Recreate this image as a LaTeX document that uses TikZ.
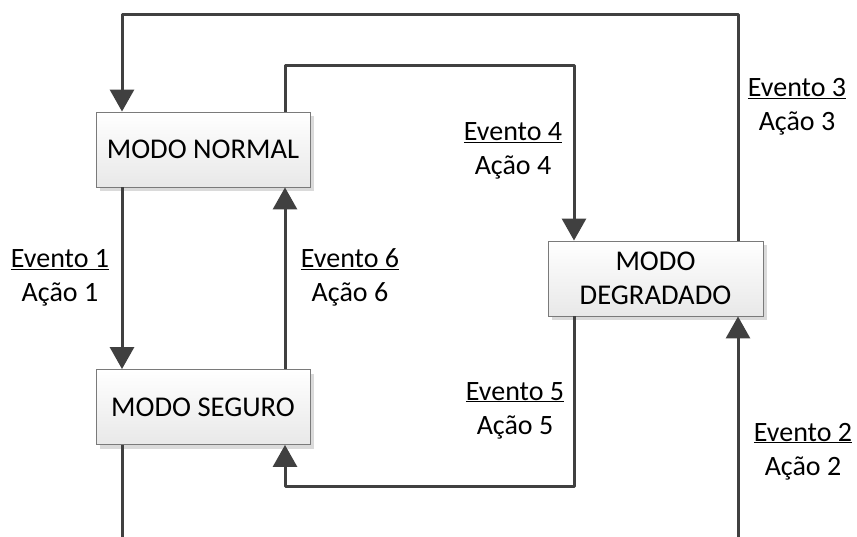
\documentclass[tikz,border=0pt]{standalone}
\usepackage{fontspec}
\setmainfont{Carlito}
\usetikzlibrary{arrows.meta,shadows}
\definecolor{lineclr}{HTML}{404040}
\definecolor{boxdraw}{HTML}{7A7A7A}
\definecolor{shadowclr}{HTML}{DADADA}
\begin{document}
\begin{tikzpicture}[x=1pt,y=-1pt,
  modebox/.style={draw=boxdraw,line width=0.9pt,top color=white,bottom color=black!9,
    minimum width=214pt,minimum height=75pt,inner sep=0pt,align=center,
    font=\fontsize{28.6}{34}\selectfont,
    drop shadow={shadow xshift=4pt,shadow yshift=-4pt,fill=shadowclr,opacity=1}},
  conn/.style={draw=lineclr,line width=3pt,line join=round},
  arr/.style={conn,-{Triangle[width=24pt,length=22pt]}},
  lbl/.style={font=\fontsize{28}{33}\selectfont,inner sep=0pt,anchor=base}]
\path[use as bounding box] (0,0) rectangle (857,537);

% boxes
\node[modebox] (normal) at (203,149.5) {MODO NORMAL};
\node[modebox] (seguro) at (203,407) {MODO SEGURO};
\node[modebox,minimum width=215pt] (degr) at (655.5,278.5) {MODO\\DEGRADADO};

% helper coordinates
\coordinate (t1) at (738,15);
\coordinate (t2) at (122,15);
\coordinate (u1) at (285,66);
\coordinate (u2) at (574,66);
\coordinate (d1) at (574,486);
\coordinate (d2) at (285,486);
\coordinate (b1) at (122,537);
\coordinate (b2) at (738,537);

% connectors
\draw[arr] (degr.north -| t1) -- (t1) -- (t2) -- (normal.north -| t2);
\draw[arr] (normal.north -| u1) -- (u1) -- (u2) -- (degr.north -| u2);
\draw[arr] (normal.south -| t2) -- (seguro.north -| t2);
\draw[arr] (seguro.north -| u1) -- (normal.south -| u1);
\draw[arr] (degr.south -| d1) -- (d1) -- (d2) -- (seguro.south -| d2);
\draw[conn] (seguro.south -| b1) -- (b1);
\draw[arr] (b2) -- (degr.south -| b2);

% labels
\node[lbl] (e3) at (797,97) {\underline{Evento 3}};
\node[lbl] (a3) at (797,131) {Ação 3};
\node[lbl] (e4) at (513,141) {\underline{Evento 4}};
\node[lbl] (a4) at (513,175) {Ação 4};
\node[lbl] (e1) at (60,268) {\underline{Evento 1}};
\node[lbl] (a1) at (60,302) {Ação 1};
\node[lbl] (e6) at (350,268) {\underline{Evento 6}};
\node[lbl] (a6) at (350,302) {Ação 6};
\node[lbl] (e5) at (515,400) {\underline{Evento 5}};
\node[lbl] (a5) at (515,434) {Ação 5};
\node[lbl] (e2) at (803,441) {\underline{Evento 2}};
\node[lbl] (a2) at (803,475) {Ação 2};
\end{tikzpicture}
\end{document}
